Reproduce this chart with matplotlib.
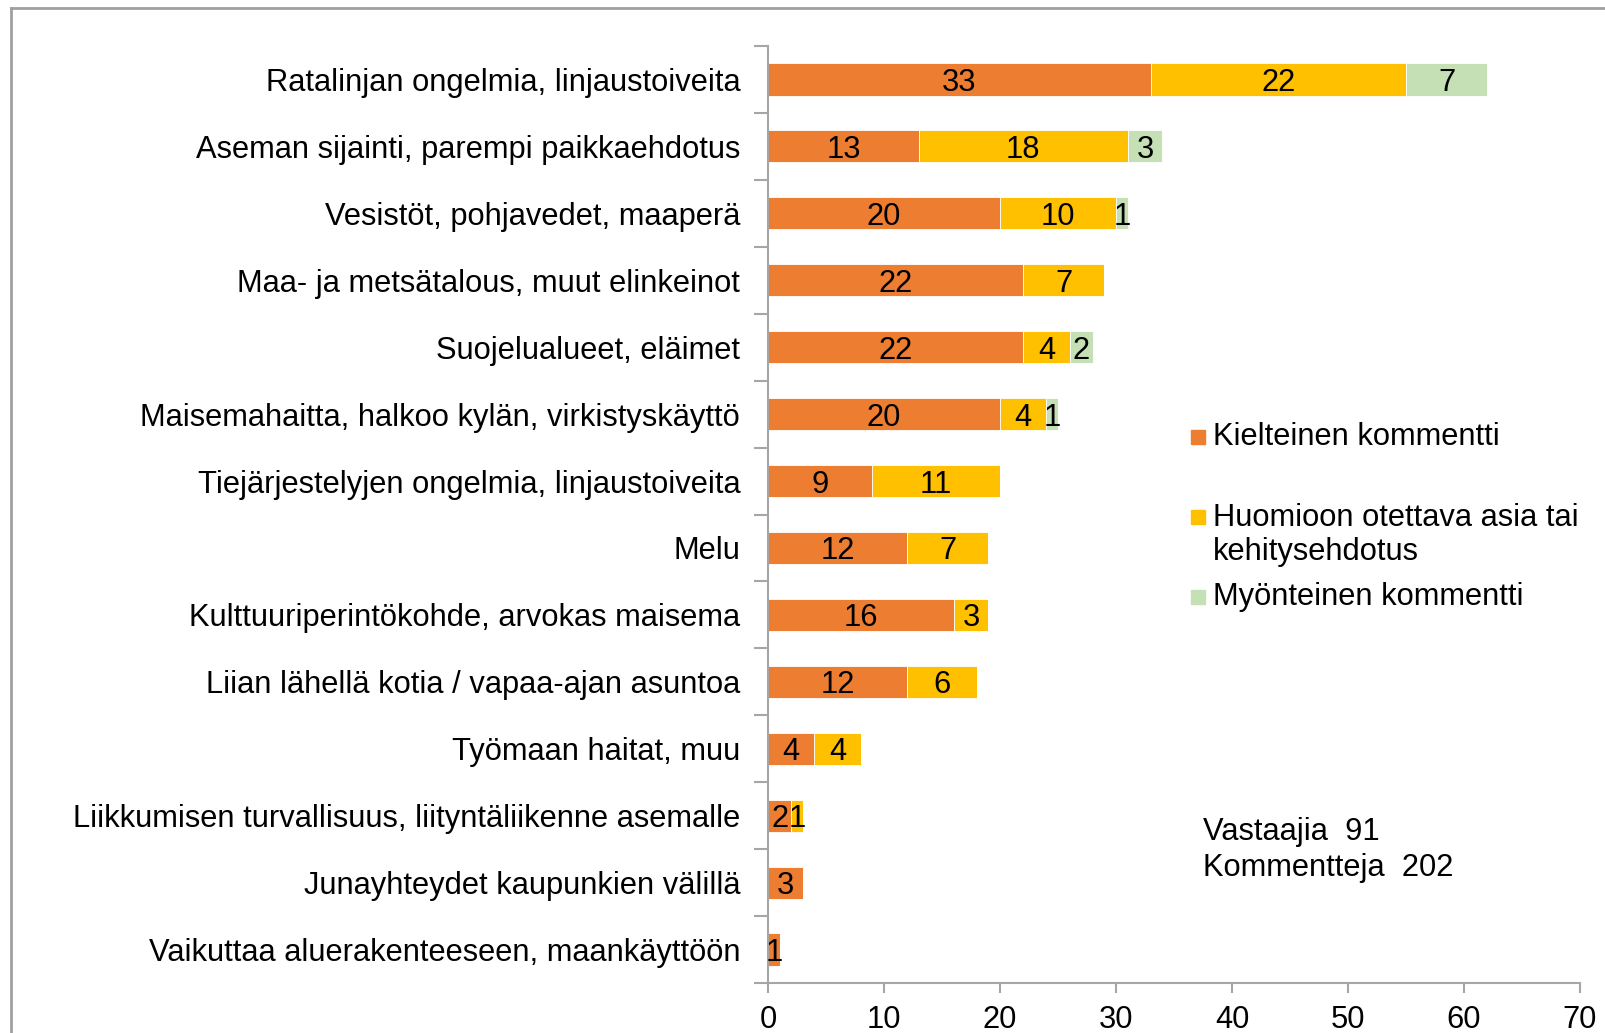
import matplotlib
matplotlib.use("Agg")
import matplotlib.pyplot as plt
from matplotlib.lines import Line2D
from matplotlib.patches import Rectangle
import numpy as np

plt.rcParams['font.family'] = ['Liberation Sans', 'DejaVu Sans']

categories = ['Ratalinjan ongelmia, linjaustoiveita',
              'Aseman sijainti, parempi paikkaehdotus',
              'Vesistöt, pohjavedet, maaperä',
              'Maa- ja metsätalous, muut elinkeinot',
              'Suojelualueet, eläimet',
              'Maisemahaitta, halkoo kylän, virkistyskäyttö',
              'Tiejärjestelyjen ongelmia, linjaustoiveita',
              'Melu',
              'Kulttuuriperintökohde, arvokas maisema',
              'Liian lähellä kotia / vapaa-ajan asuntoa',
              'Työmaan haitat, muu',
              'Liikkumisen turvallisuus, liityntäliikenne asemalle',
              'Junayhteydet kaupunkien välillä',
              'Vaikuttaa aluerakenteeseen, maankäyttöön']
kielteinen = [33, 13, 20, 22, 22, 20, 9, 12, 16, 12, 4, 2, 3, 1]
huomioon = [22, 18, 10, 7, 4, 4, 11, 7, 3, 6, 4, 1, 0, 0]
myonteinen = [7, 3, 1, 0, 2, 1, 0, 0, 0, 0, 0, 0, 0, 0]
series_names = ['Kielteinen kommentti',
                'Huomioon otettava asia tai\nkehitysehdotus',
                'Myönteinen kommentti']
colors = ['#ED7D31', '#FFC000', '#C5E0B4']
note = 'Vastaajia  91\nKommentteja  202'

W, H = 1605, 1033
fs = 22.2
fig = plt.figure(figsize=(W / 100, H / 100), dpi=100)
ax = fig.add_axes([768 / W, 1 - 983 / H, (1580 - 768) / W, (983 - 46) / H])

y = np.arange(len(categories))
left = np.zeros(len(categories))
for vals, col in zip([kielteinen, huomioon, myonteinen], colors):
    vals = np.array(vals)
    ax.barh(y, vals, left=left, height=0.48, color=col, edgecolor='white', linewidth=0.6)
    for yi, l, v in zip(y, left, vals):
        if v > 0:
            ax.text(l + v / 2, yi, str(v), ha='center', va='center_baseline', fontsize=fs, color='black')
    left = left + vals

ax.set_xlim(0, 70)
ax.set_ylim(len(categories) - 0.5, -0.5)
ax.set_xticks(np.arange(0, 71, 10))
ax.set_yticks(y)
ax.set_yticklabels(categories, va='center_baseline')
ax.set_yticks(np.arange(-0.5, len(categories)), minor=True)
ax.tick_params(axis='y', which='major', length=0, pad=20, labelsize=fs)
ax.tick_params(axis='y', which='minor', length=10, width=1.5, color='#A6A6A6')
ax.tick_params(axis='x', length=7, width=1.5, color='#A6A6A6', pad=9, labelsize=fs)
for s in ['top', 'right']:
    ax.spines[s].set_visible(False)
for s in ['left', 'bottom']:
    ax.spines[s].set_color('#A6A6A6')
    ax.spines[s].set_linewidth(1.5)

# legend drawn by hand, Excel-like spacing
leg_y = [437, 535, 597]
for name, col, ly in zip(series_names, colors, leg_y):
    fig.patches.append(Rectangle(((1198 - 7) / W, 1 - (ly + 7 if '\n' not in name else ly - 11) / H),
                                 14 / W, 14 / H, transform=fig.transFigure,
                                 color=col, zorder=5))
    fig.text(1213 / W, 1 - ly / H, name, fontsize=fs, va='center', ha='left', linespacing=1.15)

fig.text(1203 / W, 1 - 850 / H, note, fontsize=fs, va='center', ha='left', linespacing=1.25)

# chart area border
fig.lines.append(Line2D([11 / W, 11 / W], [0, 1 - 8 / H], transform=fig.transFigure,
                        color='#A0A0A0', linewidth=2))
fig.lines.append(Line2D([11 / W, 1], [1 - 8 / H, 1 - 8 / H], transform=fig.transFigure,
                        color='#A0A0A0', linewidth=2))

fig.savefig('out.png', dpi=100)
